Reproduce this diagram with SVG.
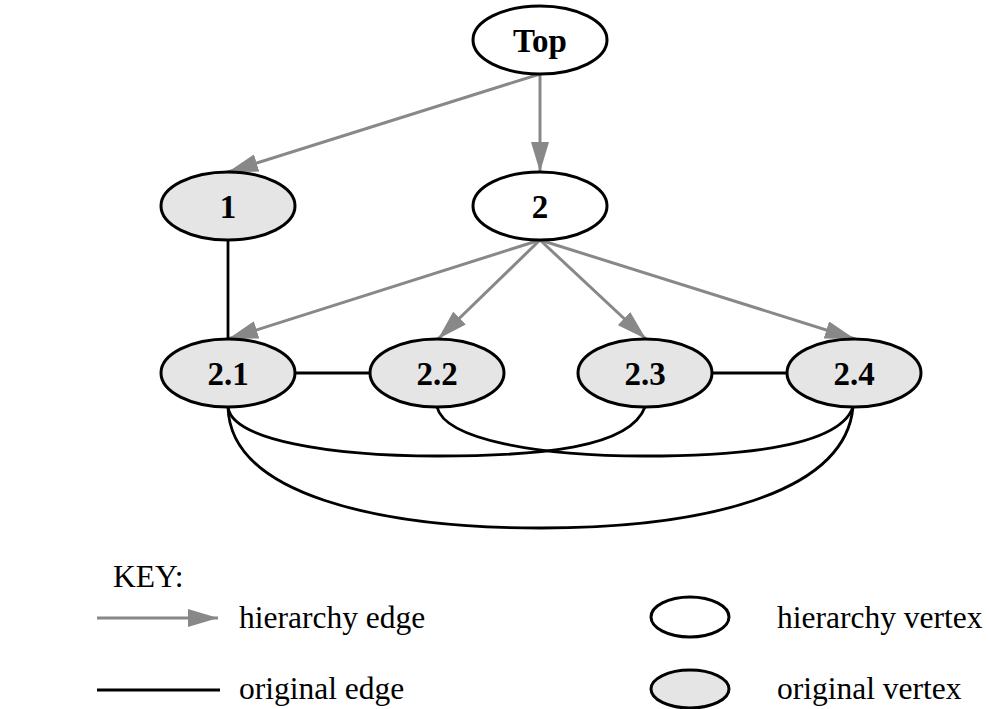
<svg xmlns="http://www.w3.org/2000/svg" width="989" height="709" viewBox="0 0 989 709">
  <style>
    .hv { fill: #ffffff; stroke: #000000; stroke-width: 3; }
    .ov { fill: #e5e5e5; stroke: #000000; stroke-width: 3; }
    .lbl { font-family: "Liberation Serif", "Times New Roman", serif; font-weight: bold; font-size: 33px; text-anchor: middle; fill: #000000; }
    .key { font-family: "Liberation Serif", "Times New Roman", serif; font-size: 31.5px; fill: #000000; }
    .hier { stroke: #888888; stroke-width: 3; fill: none; marker-end: url(#arrow); }
    .orig { stroke: #000000; stroke-width: 2.8; fill: none; }
  </style>
  <defs>
    <marker id="arrow" markerUnits="userSpaceOnUse" markerWidth="31" markerHeight="18" refX="30" refY="9" orient="auto">
      <path d="M0,0 L30,9 L0,18 z" fill="#888888"/>
    </marker>
  </defs>

  <rect width="989" height="709" fill="#ffffff"/>

  <!-- connectors -->
  <g id="edges">
    <!-- hierarchy edges -->
    <line class="hier" x1="540" y1="74" x2="228" y2="172"/>
    <line class="hier" x1="540" y1="74" x2="540" y2="172"/>
    <line class="hier" x1="540" y1="240" x2="228" y2="339"/>
    <line class="hier" x1="540" y1="240" x2="438" y2="339"/>
    <line class="hier" x1="540" y1="240" x2="646" y2="339"/>
    <line class="hier" x1="540" y1="240" x2="855" y2="339"/>
    <!-- original edges -->
    <line class="orig" x1="228" y1="240" x2="228" y2="339"/>
    <line class="orig" x1="294" y1="373" x2="370" y2="373"/>
    <line class="orig" x1="712" y1="373" x2="787" y2="373"/>
    <path class="orig" d="M228,407 C232,440 330,456 438,456 C540,456 630,448 645,407"/>
    <path class="orig" d="M437,407 C445,440 540,456 644,456 C750,456 840,445 853,407"/>
    <path class="orig" d="M228,407 C230,495 380,528 541,528 C700,528 845,495 853,407"/>
  </g>

  <!-- vertices -->
  <g id="node-top">
    <ellipse class="hv" cx="540" cy="40" rx="67" ry="34"/>
    <text class="lbl" x="540" y="52">Top</text>
  </g>
  <g id="node-1">
    <ellipse class="ov" cx="228" cy="206" rx="67" ry="34"/>
    <text class="lbl" x="228" y="218">1</text>
  </g>
  <g id="node-2">
    <ellipse class="hv" cx="540" cy="206" rx="67" ry="34"/>
    <text class="lbl" x="540" y="218">2</text>
  </g>
  <g id="node-2-1">
    <ellipse class="ov" cx="228" cy="373" rx="67" ry="34"/>
    <text class="lbl" x="228" y="385">2.1</text>
  </g>
  <g id="node-2-2">
    <ellipse class="ov" cx="437" cy="373" rx="67" ry="34"/>
    <text class="lbl" x="437" y="385">2.2</text>
  </g>
  <g id="node-2-3">
    <ellipse class="ov" cx="645" cy="373" rx="67" ry="34"/>
    <text class="lbl" x="645" y="385">2.3</text>
  </g>
  <g id="node-2-4">
    <ellipse class="ov" cx="854" cy="373" rx="67" ry="34"/>
    <text class="lbl" x="854" y="385">2.4</text>
  </g>

  <!-- legend -->
  <g id="legend">
    <text class="key" x="113" y="587">KEY:</text>
    <line class="hier" x1="97" y1="618" x2="218" y2="618"/>
    <text class="key" x="239" y="628">hierarchy edge</text>
    <line class="orig" x1="97" y1="690" x2="220" y2="690" stroke-width="3"/>
    <text class="key" x="239" y="699">original edge</text>
    <ellipse class="hv" cx="690" cy="617" rx="39" ry="20"/>
    <text class="key" x="777" y="628">hierarchy vertex</text>
    <ellipse class="ov" cx="690" cy="689" rx="39" ry="19"/>
    <text class="key" x="777" y="699">original vertex</text>
  </g>
</svg>
